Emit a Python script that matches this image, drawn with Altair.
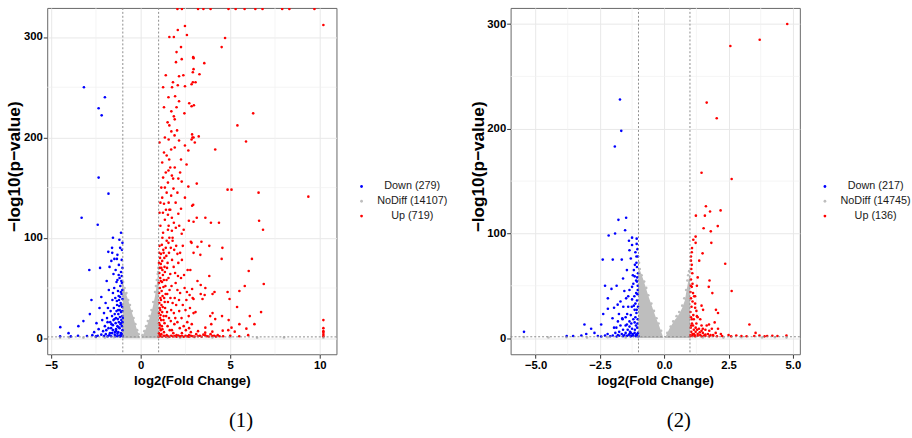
import altair as alt
import pandas as pd

# ---------------- Panel (1) data ----------------
p1_labels = ["Down (279)", "NoDiff (14107)", "Up (719)"]
p1_xdomain = [-5.22, 10.93]
p1_ydomain = [-16, 329]
p1_xticks = [-5, 0, 5, 10]
p1_xminor = [-2.5, 2.5, 7.5]
p1_yticks = [0, 100, 200, 300]
p1_yminor = [50, 150, 250]

p1_down = [
    (-3.17, 250), (-2.0, 240), (-2.35, 229), (-2.18, 222), (-2.35, 160), (-1.8, 144),
    (-3.3, 120), (-2.4, 113), (-1.1, 105), (-1.55, 100), (-1.19, 98),
    (-1.81, 86), (-1.59, 85), (-1.3, 83), (-1.64, 77), (-1.33, 79), (-2.87, 68), (-2.27, 70),
    (-1.74, 71), (-1.52, 64), (-1.23, 63), (-1.08, 57), (-2.75, 38), (-2.2, 41), (-1.96, 35),
    (-1.83, 30), (-1.55, 45), (-1.33, 37), (-1.15, 41), (-1.26, 28), (-2.84, 24), (-3.2, 17),
    (-3.48, 12), (-4.49, 11), (-4.03, 5), (-2.47, 15), (-1.88, 20), (-1.46, 19), (-1.55, 13),
    (-1.09, 15), (-2.1, 7), (-1.37, 7),
    (-4.5, 2), (-3.9, 1.8), (-3.5, 2.5), (-3.0, 2.2), (-2.7, 3), (-2.4, 2.5), (-2.2, 3.5),
    (-1.95, 4), (-1.75, 3), (-1.6, 5), (-1.45, 3.5), (-1.3, 4.5), (-1.2, 2.5), (-1.1, 5), (-1.05, 3),
    (-1.02, 8), (-1.05, 12), (-1.08, 18), (-1.03, 22), (-1.1, 26), (-1.04, 31), (-1.12, 35),
    (-1.02, 39), (-1.07, 44), (-1.03, 48), (-1.14, 52), (-1.05, 55), (-1.18, 10), (-1.22, 16),
    (-1.16, 21), (-1.25, 24), (-1.2, 32), (-1.3, 12), (-1.28, 19), (-1.35, 27), (-1.4, 15),
    (-1.38, 9), (-1.45, 24), (-1.5, 30), (-1.42, 40), (-1.6, 22), (-1.65, 10), (-1.7, 16),
    (-1.48, 50), (-1.27, 47), (-1.18, 60), (-1.1, 66), (-1.35, 56), (-1.02, 70), (-1.22, 73),
    (-1.06, 78), (-1.15, 90), (-1.78, 48), (-1.9, 57), (-2.05, 25), (-2.3, 30), (-1.12, 3),
    (-1.25, 6), (-1.55, 8), (-1.8, 10), (-2.0, 12), (-1.01, 2), (-1.3, 2), (-1.02, 16), (-1.09, 33),
    (-1.0, 20), (-1.03, 27), (-1.06, 4), (-1.13, 14), (-1.17, 28), (-1.21, 38), (-1.24, 11),
    (-1.32, 33), (-1.38, 20), (-1.44, 6), (-1.52, 18), (-1.58, 38), (-1.63, 14), (-1.68, 27),
    (-1.72, 5), (-1.85, 16), (-1.92, 8), (-2.15, 18), (-2.35, 9), (-2.6, 6), (-1.11, 46),
    (-1.23, 42), (-1.3, 58), (-1.4, 68), (-1.05, 88), (-1.02, 95), (-1.47, 79), (-1.6, 90),
    (-1.15, 1.8), (-1.4, 2), (-1.65, 2), (-1.85, 1.8), (-2.05, 2.2), (-2.5, 1.8), (-1.06, 62),
]

p1_nodiff = [
    (-4.5, 0.5), (-4.0, 0.8), (-3.2, 0.4), (-2.5, 0.9), (-2.0, 0.6), (-1.5, 1), (1.5, 0.8),
    (2.2, 0.5), (3.0, 1), (4.0, 0.6), (5.0, 0.9), (6.5, 0.5), (8, 0.7), (10.2, 0.5),
    (-1.0, 52), (-0.98, 56), (-0.95, 48), (-0.9, 50), (-0.85, 44), (-0.8, 45), (-0.7, 38),
    (-0.6, 33), (-0.5, 27), (-0.4, 20), (-0.3, 14), (-0.2, 8), (-0.12, 4),
    (0.1, 3), (0.2, 7), (0.3, 12), (0.4, 17), (0.5, 22), (0.6, 28), (0.7, 36), (0.8, 46),
    (0.85, 52), (0.9, 58), (0.95, 64), (0.98, 70), (0.97, 66),
]

p1_up = [
    (2.05, 328), (2.3, 328), (3.2, 328), (3.5, 328), (3.9, 328), (4.9, 328), (5.3, 328),
    (5.8, 328), (6.4, 328), (6.8, 328), (7.9, 328), (8.3, 328), (9.7, 328),
    (2.07, 307), (2.47, 311), (2.58, 302), (2.29, 278), (1.97, 275), (2.93, 280), (2.14, 261),
    (2.38, 262), (2.07, 252), (2.47, 251), (2.84, 253), (1.92, 241), (2.14, 236), (2.71, 234),
    (1.71, 226), (1.85, 221), (2.44, 224), (2.84, 231), (1.71, 206), (2.03, 207), (1.89, 202),
    (2.89, 200), (1.56, 198), (2.14, 197), (2.47, 192), (2.66, 187), (1.59, 178), (2.25, 178),
    (2.56, 173), (1.74, 162), (1.81, 159), (2.1, 159), (1.52, 155), (1.83, 149), (2.29, 156),
    (2.66, 151), (1.3, 134), (1.56, 135), (1.41, 128), (1.65, 128), (2.93, 133), (2.25, 129),
    (2.47, 140), (1.52, 123), (1.74, 120), (2.1, 124), (2.69, 117), (1.56, 112), (1.74, 107),
    (1.96, 110), (1.21, 100), (1.45, 97), (1.78, 97), (2.29, 104), (2.8, 96),
    (10.2, 312), (4.71, 299), (4.52, 290), (2.95, 279), (3.55, 274), (2.95, 268), (2.91, 265),
    (3.28, 263), (2.91, 255), (3.06, 255), (6.28, 224), (5.4, 212), (5.88, 196), (4.16, 188),
    (2.97, 232), (2.87, 203), (2.95, 200), (2.84, 198), (3.24, 201), (3.02, 195), (3.13, 154),
    (4.85, 148), (5.07, 148), (6.58, 145), (9.36, 141), (2.87, 132), (6.61, 117), (6.83, 108),
    (3.13, 120), (3.61, 120), (2.95, 116), (3.92, 115), (4.37, 115), (3.39, 96), (2.84, 95),
    (3.17, 91), (3.83, 92), (4.56, 90), (2.95, 85), (3.33, 83), (4.52, 79), (6.21, 79),
    (2.77, 68), (6.03, 67), (3.83, 62), (6.87, 54), (5.81, 52), (3.17, 57), (3.35, 53),
    (3.61, 50), (2.87, 49), (5.51, 47), (4.85, 46), (4.12, 46), (4.01, 44), (3.35, 44),
    (3.57, 43), (2.73, 43), (4.96, 39), (3.45, 39), (2.95, 39), (5.38, 31), (6.72, 26),
    (6.09, 22), (4.01, 25), (3.88, 22), (4.54, 22), (4.16, 19), (4.91, 18), (2.95, 25),
    (3.06, 26), (10.2, 18), (10.2, 10), (10.2, 7), (10.2, 5.5), (10.2, 3.5), (10.2, 2),
    (5.51, 14), (6.35, 14), (5.9, 9.5), (5.07, 10.5), (5.25, 6.5), (4.89, 8), (4.58, 7.5),
    (3.94, 14), (3.61, 10.5),
    (2.7, 3), (2.9, 2), (3.1, 4), (3.3, 2.5), (3.5, 3.5), (3.7, 2), (3.9, 4), (4.1, 2.5),
    (4.3, 3), (4.6, 2), (5.0, 2.5), (5.5, 2), (6.0, 3), (2.8, 6), (3.2, 7), (3.6, 5.5), (4.0, 6.5),
    (1.02, 5), (1.05, 10), (1.03, 15), (1.08, 20), (1.02, 25), (1.06, 30), (1.04, 35), (1.1, 40),
    (1.03, 45), (1.07, 50), (1.02, 55), (1.09, 60), (1.04, 65), (1.06, 70), (1.02, 75), (1.08, 80),
    (1.03, 85), (1.05, 92), (1.15, 4), (1.18, 12), (1.14, 18), (1.2, 26), (1.16, 33), (1.22, 42),
    (1.17, 47), (1.19, 56), (1.24, 63), (1.15, 70), (1.2, 77), (1.13, 84), (1.26, 88),
    (1.3, 6), (1.33, 15), (1.28, 22), (1.36, 30), (1.31, 40), (1.38, 52), (1.29, 58), (1.35, 66),
    (1.32, 80), (1.4, 90), (1.45, 3), (1.5, 12), (1.47, 26), (1.52, 36), (1.48, 44), (1.55, 60),
    (1.5, 75), (1.58, 85), (1.62, 8), (1.68, 17), (1.7, 28), (1.66, 40), (1.72, 52), (1.65, 64),
    (1.75, 78), (1.82, 5), (1.88, 14), (1.85, 25), (1.9, 40), (1.95, 55), (1.87, 88),
    (2.0, 3), (2.05, 16), (2.15, 27), (2.2, 45), (2.25, 60), (2.1, 75), (2.3, 5), (2.4, 12),
    (2.5, 28), (2.55, 38), (2.35, 92), (2.6, 16), (2.7, 10), (2.75, 30), (2.45, 50), (2.62, 68),
    (2.2, 85), (1.98, 92), (1.6, 100), (1.25, 105), (1.1, 112), (1.35, 118), (1.05, 125),
    (1.2, 140), (1.45, 145), (1.15, 150), (1.4, 165), (1.65, 170), (1.3, 185), (1.9, 190),
    (1.5, 215), (2.0, 230), (1.75, 250), (2.25, 290), (1.6, 300),
    (1.0, 1.5), (1.1, 2), (1.2, 1.5), (1.3, 2.5), (1.4, 1.6), (1.5, 2.2), (1.6, 1.5), (1.7, 2.4),
    (1.8, 1.7), (1.9, 2.1), (2.0, 1.5), (2.1, 2.6), (2.2, 1.8), (2.3, 2.2), (2.4, 1.5), (2.5, 2.5),
    (2.6, 1.8), (2.7, 1.5), (2.8, 2.3), (3.0, 1.6), (3.2, 1.9), (3.4, 1.5), (3.6, 2.8), (3.8, 1.7),
    (4.0, 2.2), (4.2, 1.6), (4.4, 2.0),
    (1.04, 3), (1.12, 8), (1.07, 13), (1.21, 9), (1.11, 23), (1.27, 18), (1.09, 28), (1.23, 31),
    (1.34, 36), (1.13, 38), (1.42, 22), (1.39, 44), (1.27, 51), (1.12, 57), (1.44, 58), (1.33, 71),
    (1.21, 68), (1.47, 70), (1.12, 74), (1.28, 85), (1.43, 82), (1.18, 93), (1.55, 95), (1.68, 90),
    (1.61, 48), (1.78, 35), (1.58, 20), (1.74, 8), (1.93, 20), (1.98, 33), (2.05, 48), (1.92, 65),
    (1.84, 71), (2.08, 62), (2.14, 38), (2.28, 20), (2.35, 33), (2.42, 63), (2.18, 10), (2.52, 8),
    (2.68, 22), (2.85, 14), (2.58, 46), (2.9, 40), (2.3, 78), (2.05, 84), (1.78, 100), (1.52, 108),
    (1.85, 115), (2.15, 112), (2.4, 108), (1.24, 125), (1.6, 128), (1.95, 135), (1.1, 135),
    (1.7, 142), (2.05, 145), (1.35, 150), (1.25, 160), (1.55, 167), (1.9, 170), (2.2, 165),
    (1.2, 175), (1.45, 182), (1.7, 188), (1.05, 195), (1.35, 200), (1.6, 212), (1.9, 218),
    (1.3, 230), (1.55, 240), (1.8, 255), (1.4, 262), (2.0, 285), (1.85, 300), (1.25, 250),
]

# dense NoDiff cloud envelopes (upper edge of the packed grey points)
p1_cloud_left = [(-1.0, 50), (-0.9, 47), (-0.8, 43), (-0.7, 38), (-0.6, 32), (-0.5, 26),
                 (-0.4, 20), (-0.3, 14), (-0.2, 8), (-0.1, 3), (-0.03, 0)]
p1_cloud_right = [(0.03, 0), (0.1, 2), (0.2, 6), (0.3, 10), (0.4, 15), (0.5, 20), (0.6, 26),
                  (0.7, 33), (0.8, 42), (0.9, 54), (0.97, 66), (1.0, 68)]

# ---------------- Panel (2) data ----------------
p2_labels = ["Down (217)", "NoDiff (14745)", "Up (136)"]
p2_xdomain = [-5.97, 5.27]
p2_ydomain = [-15.4, 315.4]
p2_xticks = [-5, -2.5, 0, 2.5, 5]
p2_xminor = [-3.75, -1.25, 1.25, 3.75]
p2_yticks = [0, 100, 200, 300]
p2_yminor = [50, 150, 250]

p2_down = [
    (-1.72, 228), (-1.67, 198), (-1.92, 183), (-1.48, 115), (-1.78, 113), (-1.52, 103),
    (-2.16, 98), (-1.91, 100), (-1.25, 96), (-1.07, 95), (-1.37, 93), (-2.39, 75), (-2.0, 75),
    (-1.65, 75), (-1.3, 76), (-1.12, 82), (-1.08, 78), (-1.25, 89), (-1.35, 84), (-1.06, 68),
    (-1.18, 65), (-1.15, 59), (-1.06, 54), (-1.25, 49), (-1.35, 46), (-1.09, 43), (-2.19, 38),
    (-1.48, 38), (-1.25, 37), (-1.81, 32), (-1.59, 30), (-1.95, 29), (-2.19, 28), (-2.37, 23),
    (-1.76, 23), (-1.44, 23), (-1.15, 27), (-2.01, 19), (-1.63, 19), (-1.35, 16), (-2.45, 13),
    (-3.1, 13), (-2.84, 9), (-1.86, 10), (-1.5, 12), (-1.15, 15), (-2.71, 5), (-3.03, 4),
    (-2.2, 4), (-5.45, 6), (-3.79, 2), (-3.54, 2), (-3.22, 2.5), (-2.58, 2),
    (-1.02, 5), (-1.05, 10), (-1.03, 18), (-1.08, 24), (-1.02, 30), (-1.06, 36), (-1.04, 42),
    (-1.03, 50), (-1.05, 58), (-1.02, 62), (-1.08, 72), (-1.04, 85), (-1.1, 3), (-1.14, 8),
    (-1.12, 20), (-1.18, 31), (-1.16, 40), (-1.2, 52), (-1.14, 70), (-1.22, 4), (-1.25, 9),
    (-1.28, 14), (-1.3, 22), (-1.33, 6), (-1.38, 3), (-1.42, 8), (-1.45, 13), (-1.5, 5),
    (-1.55, 3), (-1.6, 8), (-1.65, 4), (-1.7, 12), (-1.75, 6), (-1.8, 3), (-1.9, 5), (-2.0, 2.5),
    (-1.4, 30), (-1.55, 45), (-1.6, 57), (-1.45, 65), (-1.7, 35), (-1.85, 50), (-2.05, 47),
    (-2.3, 50), (-1.3, 5), (-1.1, 12), (-1.2, 18), (-1.01, 2), (-1.35, 11), (-1.62, 18),
    (-1.02, 1.8), (-1.1, 1.8), (-1.2, 2), (-1.3, 1.7), (-1.45, 2.1), (-1.6, 1.8), (-1.75, 2.2),
    (-1.85, 1.6), (-2.1, 1.8), (-2.3, 2.4), (-2.45, 1.6), (-1.04, 14), (-1.07, 27), (-1.12, 33),
    (-1.03, 46), (-1.09, 55), (-1.26, 30), (-1.22, 60), (-1.4, 40), (-1.5, 20), (-1.05, 4),
    (-1.15, 5), (-1.25, 2.5), (-1.35, 4), (-1.8, 16), (-1.95, 10), (-1.07, 90), (-1.02, 78),
]

p2_nodiff = [
    (-5.45, 1), (-4.5, 0.6), (-3.8, 0.8), (-3.0, 0.5), (-2.2, 0.9), (-1.5, 0.6), (1.5, 0.7),
    (2.3, 0.5), (3.0, 0.9), (3.8, 0.6), (4.3, 0.8), (4.75, 0.5),
    (-0.98, 72), (-0.95, 66), (-0.88, 60), (-0.78, 54), (-0.7, 48), (-0.62, 41), (-0.5, 33),
    (-0.4, 26), (-0.3, 19), (-0.22, 14), (-0.12, 7),
    (0.12, 5), (0.25, 11), (0.35, 16), (0.48, 21), (0.58, 25), (0.7, 31), (0.78, 38),
    (0.85, 46), (0.9, 55), (0.93, 60), (0.97, 64),
]

p2_up = [
    (4.78, 300), (3.71, 285), (2.57, 279), (1.65, 225), (2.04, 210), (1.45, 158), (2.62, 152),
    (1.62, 126), (1.78, 121), (2.19, 122), (1.58, 117), (1.23, 117), (1.53, 105), (2.08, 107),
    (1.81, 102), (1.22, 97), (1.13, 94), (1.22, 91), (1.83, 91), (1.07, 82), (1.04, 78),
    (1.04, 74), (1.49, 81), (1.36, 74), (2.37, 71), (1.09, 62), (1.3, 58), (1.76, 55),
    (1.04, 56), (1.73, 49), (2.62, 45), (1.07, 49), (1.27, 50), (1.87, 43), (1.04, 38),
    (1.12, 43), (1.2, 33), (1.45, 31), (1.51, 27), (2.01, 27), (2.09, 24), (1.2, 29),
    (1.13, 22), (1.27, 21), (1.07, 18), (1.74, 13), (1.96, 15), (3.31, 13), (1.22, 10),
    (2.09, 9), (1.45, 7), (3.55, 5),
    (2.5, 3), (2.8, 2.5), (3.0, 2), (3.5, 2), (3.7, 2.5), (4.0, 2), (4.4, 2), (4.75, 2.5),
    (1.9, 3), (2.2, 4), (1.6, 3.5),
    (1.02, 3), (1.05, 6), (1.03, 10), (1.08, 14), (1.02, 25), (1.06, 30), (1.1, 4), (1.15, 8),
    (1.12, 12), (1.18, 3), (1.22, 6), (1.25, 14), (1.3, 4), (1.35, 9), (1.4, 3), (1.45, 12),
    (1.5, 5), (1.55, 2.5), (1.6, 8), (1.7, 4), (1.75, 7), (1.8, 3), (1.85, 9), (2.0, 5),
    (1.15, 18), (1.3, 20), (1.05, 66), (1.1, 52), (1.02, 44), (1.08, 86), (1.16, 40),
    (1.02, 1.8), (1.1, 2), (1.2, 1.7), (1.3, 2.2), (1.45, 1.8), (1.6, 2), (1.75, 1.7), (1.9, 2),
    (2.05, 1.8), (2.25, 2), (2.6, 1.7), (3.2, 1.8), (3.9, 1.7), (4.2, 2.3), (1.04, 20),
    (1.1, 35), (1.03, 50), (1.07, 70), (1.25, 26), (1.4, 18), (1.2, 40), (1.05, 12), (1.15, 4),
    (1.28, 8), (1.38, 5.5), (1.65, 12), (1.5, 9),
]

p2_cloud_left = [(-1.0, 68), (-0.9, 62), (-0.8, 55), (-0.7, 47), (-0.6, 39), (-0.5, 32),
                 (-0.4, 25), (-0.3, 18), (-0.2, 12), (-0.1, 5), (-0.03, 0)]
p2_cloud_right = [(0.03, 0), (0.1, 4), (0.2, 9), (0.3, 13), (0.4, 17), (0.5, 20), (0.6, 24),
                  (0.7, 29), (0.8, 36), (0.9, 50), (0.96, 58), (1.0, 60)]

# thresholds
fc_cut = [-1, 1]
p_cut = [1.301]

colors = ["#0000FF", "#BEBEBE", "#FF0000"]
FONT = "Liberation Sans"


def panel(labels, down, nodiff, up, cloud_l, cloud_r, xdom, ydom, xticks, xminor,
          yticks, yminor, xfmt, caption, cap_dx):
    rows = []
    for lab, pts in [(labels[1], nodiff), (labels[0], down), (labels[2], up)]:
        for x, y in pts:
            rows.append({"fc": x, "p": y, "grp": lab})
    pts_df = pd.DataFrame(rows)

    cloud_rows = []
    for name, pts in [("L", cloud_l), ("R", cloud_r)]:
        for x, y in pts:
            cloud_rows.append({"fc": x, "p": y, "lobe": name})
    cloud_df = pd.DataFrame(cloud_rows)

    xs = alt.Scale(domain=xdom, nice=False, zero=False)
    ys = alt.Scale(domain=ydom, nice=False, zero=False)
    xax = alt.Axis(values=xticks, format=xfmt, grid=True, title="log2(Fold Change)")
    yax = alt.Axis(values=yticks, format="d", grid=True, title="\u2212log10(p\u2212value)",
                   titleFontSize=17.5, titleX=-33, titleY=161, titleAngle=270,
                   titleAlign="center", titleBaseline="middle")
    X = alt.X("fc:Q", scale=xs, axis=xax)
    Y = alt.Y("p:Q", scale=ys, axis=yax)

    minor_x = alt.Chart(pd.DataFrame({"fc": xminor})).mark_rule(
        color="#F0F0F0", strokeWidth=0.7).encode(x=X)
    minor_y = alt.Chart(pd.DataFrame({"p": yminor})).mark_rule(
        color="#F0F0F0", strokeWidth=0.7).encode(y=Y)

    cloud = alt.Chart(cloud_df).mark_area(color="#BEBEBE", opacity=1, clip=True).encode(
        x=X, y=Y, y2=alt.datum(0), detail="lobe:N")

    points = alt.Chart(pts_df).mark_circle(size=7, opacity=1, clip=True).encode(
        x=X, y=Y,
        color=alt.Color("grp:N", scale=alt.Scale(domain=labels, range=colors),
                        legend=alt.Legend(title=None, orient="none", legendX=314, legendY=176,
                                          labelAlign="center", labelOffset=46,
                                          symbolSize=8, symbolType="circle",
                                          labelFont=FONT, labelFontSize=11,
                                          labelColor="#1A1A1A", rowPadding=3, padding=0)),
    )

    vline = alt.Chart(pd.DataFrame({"fc": fc_cut})).mark_rule(
        color="#8C8C8C", strokeDash=[2, 2], strokeWidth=1).encode(x=X)
    hline = alt.Chart(pd.DataFrame({"p": p_cut})).mark_rule(
        color="#8C8C8C", strokeDash=[2, 2], strokeWidth=1).encode(y=Y)

    return alt.layer(minor_x, minor_y, cloud, points, vline, hline).properties(
        width=294, height=352,
        title=alt.TitleParams(caption, orient="bottom", anchor="middle", frame="group",
                              dx=cap_dx, offset=23.5, font="Liberation Serif", fontSize=21,
                              fontWeight="normal", color="black"))


c1 = panel(p1_labels, p1_down, p1_nodiff, p1_up, p1_cloud_left, p1_cloud_right,
           p1_xdomain, p1_ydomain, p1_xticks, p1_xminor, p1_yticks, p1_yminor, "d", "(1)", 50)
c2 = panel(p2_labels, p2_down, p2_nodiff, p2_up, p2_cloud_left, p2_cloud_right,
           p2_xdomain, p2_ydomain, p2_xticks, p2_xminor, p2_yticks, p2_yminor, ".1f", "(2)", 24)

chart = alt.hconcat(c1, c2, spacing=20).resolve_scale(
    x="independent", y="independent", color="independent"
).resolve_legend(color="independent").properties(
    padding={"left": 5, "top": 3.5, "right": 0, "bottom": 0},
    background="white",
).configure_view(
    stroke="#666666", strokeWidth=1
).configure_axis(
    domain=False, tickSize=4, tickColor="#333333", tickWidth=1,
    gridColor="#E8E8E8", gridWidth=1,
    labelFont=FONT, labelFontSize=11.5, labelFontWeight="bold", labelColor="black",
    titleFont=FONT, titleFontSize=13.5, titleFontWeight="bold", titleColor="black",
).configure_axisX(labelPadding=2, titlePadding=2).configure_axisY(labelPadding=1)

chart.save("out.html", embed_options={"renderer": "svg", "actions": False})
